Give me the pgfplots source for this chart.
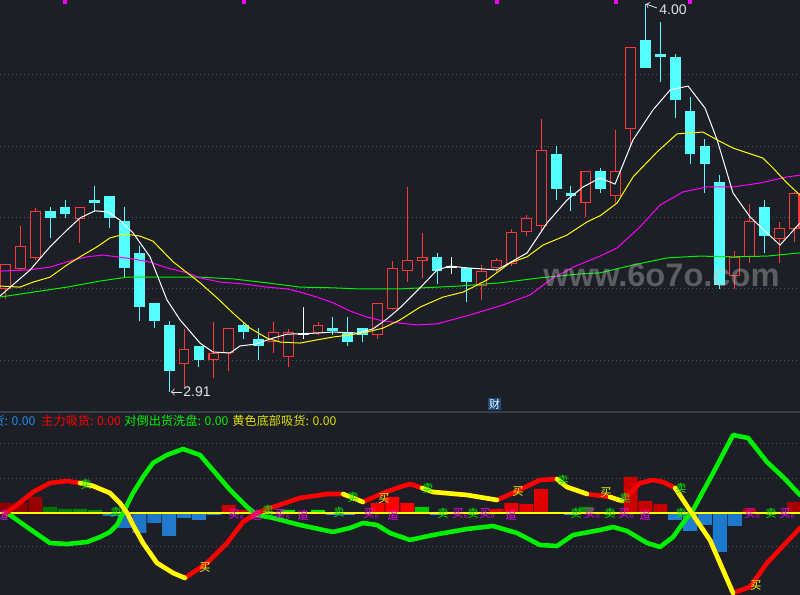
\documentclass[border=0pt]{standalone}
\usepackage{pgfplots}
\pgfplotsset{compat=1.18}
\usepackage{fontspec}
\setmainfont{Liberation Sans}
\newfontfamily\cjk{Noto Sans CJK SC}
\definecolor{bg}{HTML}{1C1F26}
\definecolor{gridc}{HTML}{4A4F5B}
\definecolor{sepc}{HTML}{3A3E48}
\definecolor{cred}{HTML}{FF3838}
\definecolor{ccyan}{HTML}{54FFFF}
\definecolor{lred}{HTML}{FF0000}
\definecolor{lyel}{HTML}{FFFF00}
\definecolor{lgrn}{HTML}{00F000}
\definecolor{lblue}{HTML}{1E8CF0}
\definecolor{lmag}{HTML}{FF00FF}
\definecolor{anno}{HTML}{DCE4F0}
\definecolor{badge}{HTML}{1B4A80}
% candles: index, low, body bottom, body top, high
\newcommand\cu[5]{%
 \addplot[cred, line width=0.5pt] coordinates {(#1,#2)(#1,#3)};
 \addplot[cred, line width=0.5pt] coordinates {(#1,#4)(#1,#5)};
 \addplot[cred, line width=5.4pt] coordinates {(#1,#3)(#1,#4)};
 \addplot[bg, line width=4.3pt, shorten <=0.55pt, shorten >=0.55pt] coordinates {(#1,#3)(#1,#4)};}
\newcommand\cd[5]{%
 \addplot[ccyan, line width=0.5pt] coordinates {(#1,#2)(#1,#5)};
 \addplot[ccyan, line width=5.4pt] coordinates {(#1,#3)(#1,#4)};}
\newcommand\lab[4]{\node[anchor=west, inner sep=0pt, text=#3, font=\cjk\fontsize{5.6pt}{6pt}\selectfont] at (#1,#2) {#4};}
\newcommand\bd{买\rlap{。}}
\begin{document}
\begin{tikzpicture}
\useasboundingbox (0,0) rectangle (400pt,297.5pt);
\clip (0,0) rectangle (400pt,297.5pt);
\fill[bg] (0,0) rectangle (400pt,297.5pt);
% ---------------- upper panel ----------------
\begin{axis}[at={(0pt,92.5pt)}, anchor=south west, scale only axis,
  width=400pt, height=205pt,
  xmin=-0.37, xmax=53.39, ymin=2.8603, ymax=4.0104,
  axis line style={draw=none}, xtick=\empty,
  ytick={3.0,3.2,3.4,3.6,3.8}, yticklabels={}, major tick length=0pt,
  ymajorgrids, grid style={gridc, line width=0.5pt, dash pattern=on 0.5pt off 1.5pt}]
\cu{0}{3.172}{3.200}{3.270}{3.270}
\cu{1}{3.250}{3.256}{3.320}{3.377}
\cu{2}{3.281}{3.287}{3.419}{3.427}
\cd{3}{3.343}{3.399}{3.419}{3.430}
\cd{4}{3.399}{3.410}{3.430}{3.449}
\cu{5}{3.329}{3.396}{3.430}{3.430}
\cd{6}{3.416}{3.441}{3.449}{3.489}
\cd{7}{3.371}{3.399}{3.461}{3.461}
\cd{8}{3.233}{3.259}{3.391}{3.430}
\cd{9}{3.110}{3.149}{3.301}{3.320}
\cd{10}{3.090}{3.110}{3.161}{3.161}
\cd{11}{2.910}{2.970}{3.099}{3.110}
\cu{12}{2.925}{2.989}{3.031}{3.088}
\cd{13}{2.981}{3.001}{3.040}{3.040}
\cu{14}{2.950}{3.001}{3.020}{3.107}
\cu{15}{2.970}{3.020}{3.090}{3.090}
\cd{16}{3.059}{3.079}{3.099}{3.107}
\cd{17}{3.001}{3.040}{3.059}{3.090}
\cu{18}{3.020}{3.051}{3.079}{3.107}
\cu{19}{2.981}{3.009}{3.079}{3.088}
\addplot[white, line width=0.5pt] coordinates {(20,3.059)(20,3.149)};
\addplot[white, line width=0.8pt] coordinates {(19.63,3.073)(20.37,3.073)};
\cu{21}{3.071}{3.076}{3.099}{3.107}
\cd{22}{3.071}{3.082}{3.090}{3.121}
\cd{23}{3.040}{3.051}{3.079}{3.121}
\cd{24}{3.051}{3.071}{3.090}{3.090}
\cu{25}{3.059}{3.071}{3.161}{3.161}
\cu{26}{3.141}{3.144}{3.259}{3.278}
\cu{27}{3.219}{3.250}{3.281}{3.486}
\cu{28}{3.231}{3.278}{3.290}{3.357}
\cd{29}{3.214}{3.250}{3.290}{3.301}
\addplot[white, line width=0.5pt] coordinates {(30,3.242)(30,3.290)};
\addplot[white, line width=0.8pt] coordinates {(29.63,3.261)(30.37,3.261)};
\cd{31}{3.163}{3.219}{3.259}{3.259}
\cu{32}{3.169}{3.208}{3.250}{3.267}
\cu{33}{3.247}{3.259}{3.281}{3.287}
\cu{34}{3.264}{3.270}{3.360}{3.368}
\cu{35}{3.348}{3.360}{3.399}{3.407}
\cu{36}{3.360}{3.377}{3.590}{3.677}
\cd{37}{3.449}{3.480}{3.578}{3.601}
\cd{38}{3.419}{3.461}{3.469}{3.489}
\cu{39}{3.402}{3.441}{3.531}{3.531}
\cd{40}{3.469}{3.480}{3.531}{3.539}
\cu{41}{3.441}{3.461}{3.531}{3.646}
\cu{42}{3.601}{3.649}{3.879}{3.879}
\cd{43}{3.820}{3.820}{3.898}{4.000}
\cd{44}{3.780}{3.851}{3.859}{3.949}
\cd{45}{3.679}{3.730}{3.851}{3.859}
\cd{46}{3.550}{3.578}{3.699}{3.738}
\cd{47}{3.469}{3.550}{3.601}{3.621}
\cd{48}{3.200}{3.211}{3.500}{3.519}
\cu{49}{3.200}{3.236}{3.290}{3.306}
\cu{50}{3.273}{3.290}{3.391}{3.438}
\cd{51}{3.301}{3.348}{3.430}{3.449}
\cu{52}{3.273}{3.340}{3.371}{3.388}
\cu{53}{3.332}{3.368}{3.469}{3.472}
% moving averages
\addplot[lgrn, line width=0.5pt] coordinates {(-0.37,3.177)(1.85,3.191)(4.13,3.205)(6.35,3.222)(8.17,3.233)(13.07,3.233)(15.29,3.228)(17.57,3.217)(19.79,3.205)(22.01,3.203)(23.62,3.200)(26.51,3.200)(30.54,3.208)(33.23,3.217)(35.92,3.231)(38.61,3.242)(39.95,3.245)(42.17,3.267)(44.46,3.287)(46.67,3.292)(48.89,3.290)(51.17,3.292)(53.39,3.301)};
\addplot[lmag, line width=0.5pt] coordinates {(-0.37,3.250)(1.44,3.253)(2.99,3.261)(4.54,3.281)(5.48,3.290)(6.55,3.295)(7.49,3.290)(8.57,3.284)(9.71,3.275)(10.85,3.259)(12.20,3.245)(13.07,3.231)(14.42,3.219)(15.96,3.214)(17.57,3.205)(18.92,3.200)(19.79,3.191)(20.93,3.177)(22.01,3.161)(23.15,3.138)(24.29,3.121)(25.37,3.110)(26.51,3.104)(27.65,3.099)(29.00,3.102)(31.22,3.127)(33.43,3.155)(35.25,3.183)(36.59,3.225)(38.14,3.261)(39.95,3.292)(41.10,3.315)(42.64,3.374)(43.98,3.435)(45.53,3.472)(47.14,3.486)(48.89,3.486)(50.70,3.497)(52.52,3.514)(53.39,3.519)};
\addplot[lyel, line width=0.5pt] coordinates {(-0.37,3.208)(0.97,3.205)(1.85,3.219)(2.99,3.233)(4.13,3.267)(5.01,3.290)(6.15,3.318)(7.02,3.343)(8.03,3.354)(9.04,3.348)(9.91,3.334)(11.26,3.276)(12.40,3.239)(13.07,3.217)(14.21,3.175)(15.29,3.132)(16.43,3.090)(17.57,3.062)(18.45,3.051)(19.79,3.048)(20.93,3.057)(22.01,3.065)(23.15,3.071)(24.29,3.079)(25.37,3.090)(26.51,3.113)(27.86,3.149)(29.40,3.177)(30.75,3.191)(32.36,3.225)(33.90,3.273)(35.05,3.290)(36.12,3.323)(37.73,3.351)(39.08,3.388)(39.95,3.405)(41.10,3.441)(42.17,3.514)(43.78,3.584)(45.13,3.635)(46.87,3.640)(47.82,3.618)(48.89,3.595)(50.90,3.567)(51.58,3.539)(52.52,3.497)(53.39,3.463)};
\addplot[white, line width=0.5pt] coordinates {(-0.37,3.180)(1.65,3.253)(2.99,3.318)(4.13,3.365)(5.01,3.399)(6.01,3.419)(6.89,3.416)(7.69,3.393)(8.57,3.357)(9.71,3.290)(10.85,3.169)(11.73,3.113)(13.07,3.048)(13.94,3.023)(15.09,3.020)(15.76,3.040)(16.77,3.045)(17.98,3.062)(18.92,3.073)(20.93,3.076)(22.01,3.079)(23.62,3.076)(24.70,3.088)(25.64,3.116)(26.51,3.147)(27.86,3.203)(29.00,3.253)(29.87,3.264)(31.01,3.259)(33.03,3.253)(35.05,3.301)(36.39,3.385)(37.73,3.449)(38.81,3.486)(39.95,3.511)(40.96,3.494)(42.17,3.618)(43.51,3.702)(44.66,3.758)(45.87,3.769)(47.01,3.707)(47.82,3.618)(48.89,3.469)(50.03,3.402)(51.17,3.357)(52.05,3.323)(53.39,3.385)};
\addplot[only marks, mark=square*, mark size=0.8pt, lmag] coordinates {(4,4.005)(16,4.005)(33,4.005)(41,4.005)(46,4.005)};
\end{axis}
% ---------------- lower panel ----------------
\begin{axis}[at={(0pt,0pt)}, anchor=south west, scale only axis,
  width=400pt, height=91.5pt,
  xmin=-0.37, xmax=53.39, ymin=-82, ymax=101,
  axis line style={draw=none}, xtick=\empty,
  ytick={-34,34,69}, yticklabels={}, major tick length=0pt,
  ymajorgrids, grid style={gridc, line width=0.5pt, dash pattern=on 0.5pt off 1.5pt}]
\addplot[ybar, bar width=0.94, bar shift=0pt, draw=none, left color=red!55!black, right color=red!65!black, middle color=lred] coordinates {(0,10)(1,10)(2,16)(15,8)(16,3)(25,10)(26,16)(27,10)(33,4)(34,10)(35,9)(36,24)(42,36)(43,12)(44,9)(50,4)(53,11)};
\addplot[ybar, bar width=0.94, bar shift=0pt, draw=none, left color=green!45!black, right color=green!55!black, middle color=lgrn] coordinates {(3,6)(4,4)(5,4)(6,3)(19,3)(21,3)(28,6)(37,1)(39,6)};
\addplot[ybar, bar width=0.94, bar shift=0pt, draw=none, left color=lblue!80!black, right color=lblue!85!black, middle color=lblue!85!white] coordinates {(7,-3)(8,-15)(9,-20)(10,-10)(11,-23)(12,-5)(13,-7)(14,-2)(22,-2)(23,-2)(29,-2)(38,-2)(45,-7)(46,-18)(47,-12)(48,-39)(49,-13)};
\addplot[lyel, line width=0.6pt] coordinates {(-0.37,0)(53.39,0)};
\addplot[lgrn, line width=2.3pt, line join=round, line cap=round] coordinates {(0.03,0)(0.30,-2)(1.44,-14)(2.99,-30)(4.13,-31)(5.48,-29)(6.35,-24)(7.02,-19)(7.49,-12)(7.90,0)(8.57,20)(9.24,36)(9.91,50)(10.85,58)(11.93,64)(13.07,58)(13.94,43)(15.09,23)(16.23,6)(16.90,-2)(17.98,-5)(19.79,-12)(22.01,-19)(23.15,-15)(24.02,-10)(24.97,-12)(25.84,-20)(27.18,-27)(28.73,-22)(31.01,-16)(32.76,-13)(34.37,-20)(35.92,-32)(37.06,-33)(38.14,-22)(39.95,-17)(40.83,-14)(41.77,-18)(43.11,-30)(43.98,-34)(44.86,-24)(45.53,-10)(46.20,3)(47.55,40)(48.89,78)(49.90,75)(51.17,51)(52.25,36)(53.39,18)};
\addplot[lred, line width=2.3pt, line join=round, line cap=round] coordinates {(0.03,0)(0.77,8)(1.85,21)(2.99,30)(4.13,32)(5.01,30)(5.88,27)(7.02,20)(7.69,10)(8.17,0)(8.57,-12)(9.24,-30)(10.18,-50)(11.26,-60)(12.06,-65)(13.54,-50)(14.89,-30)(15.96,-9)(16.90,0)(17.98,6)(19.79,15)(21.61,19)(22.68,19)(24.02,11)(25.37,20)(26.51,26)(27.18,29)(27.99,25)(28.73,21)(31.01,18)(33.03,13)(34.10,20)(35.92,33)(37.06,34)(37.73,26)(39.08,19)(40.62,16)(41.43,12)(42.64,30)(43.51,33)(44.19,31)(45.00,25)(46.20,-2)(47.34,-27)(48.89,-80)(50.03,-74)(51.17,-50)(53.39,-15)};
\addplot[lyel, line width=2.3pt, line join=round, line cap=round] coordinates {(5.01,30)(5.88,27)(7.02,20)(7.69,10)(8.17,0)(8.57,-12)(9.24,-30)(10.18,-50)(11.26,-60)(12.06,-65)};
\addplot[lyel, line width=2.3pt, line join=round, line cap=round] coordinates {(22.68,19)(24.02,11)};
\addplot[lyel, line width=2.3pt, line join=round, line cap=round] coordinates {(27.99,25)(28.73,21)(31.01,18)(33.03,13)};
\addplot[lyel, line width=2.3pt, line join=round, line cap=round] coordinates {(37.06,34)(37.73,26)(39.08,19)};
\addplot[lyel, line width=2.3pt, line join=round, line cap=round] coordinates {(40.62,16)(41.43,12)};
\addplot[lyel, line width=2.3pt, line join=round, line cap=round] coordinates {(45.00,25)(46.20,-2)(47.34,-27)(48.89,-80)};
\end{axis}
% ---------------- texts in pixel units ----------------
\begin{scope}[shift={(0pt,297.5pt)}, x=0.5pt, y=-0.5pt]
\draw[sepc, line width=0.6pt] (0,412) -- (800,412);
\node[anchor=base west, inner sep=0pt, text=white!55!gray, text opacity=0.38, font=\bfseries\fontsize{16.3pt}{18pt}\selectfont] at (543,287) {www.6o7o.com};
\draw[anno, line width=0.4pt, ->] (657,8) -- (646,4);
\node[anchor=west, inner sep=0pt, text=anno, font=\fontsize{7pt}{8pt}\selectfont] at (659,10) {4.00};
\draw[anno, line width=0.4pt, ->] (182,392) -- (171,392);
\node[anchor=west, inner sep=0pt, text=anno, font=\fontsize{7pt}{8pt}\selectfont] at (183,392) {2.91};
\node[fill=badge, text=white, inner sep=0.4pt, font=\cjk\fontsize{5.5pt}{6pt}\selectfont] at (494.5,404) {财};
\node[anchor=west, inner sep=0pt, text=lblue, font=\cjk\fontsize{6.1pt}{7pt}\selectfont] at (-8,421) {货: 0.00};
\node[anchor=west, inner sep=0pt, text=lred, font=\cjk\fontsize{6.1pt}{7pt}\selectfont] at (41,421) {主力吸货: 0.00};
\node[anchor=west, inner sep=0pt, text=lgrn, font=\cjk\fontsize{6.1pt}{7pt}\selectfont] at (124,421) {对倒出货洗盘: 0.00};
\node[anchor=west, inner sep=0pt, text=lyel!88!black, font=\cjk\fontsize{6.1pt}{7pt}\selectfont] at (232,421) {黄色底部吸货: 0.00};
\lab{-3}{515}{lmag}{追}
\lab{80}{484}{lgrn}{卖}
\lab{110}{512}{lgrn}{卖}
\lab{199}{568}{lyel}{买}
\lab{228}{515}{lmag}{\bd}
\lab{250}{515}{lmag}{追}
\lab{262}{510}{lgrn}{卖}
\lab{274}{515}{lmag}{\bd}
\lab{297}{515}{lmag}{追}
\lab{333}{512}{lgrn}{卖}
\lab{347}{497}{lgrn}{卖}
\lab{363}{514}{lmag}{\bd}
\lab{378}{499}{lyel}{买}
\lab{387}{515}{lmag}{追}
\lab{422}{488}{lgrn}{卖}
\lab{437}{513}{lgrn}{卖}
\lab{452}{514}{lmag}{\bd}
\lab{467}{513}{lgrn}{卖}
\lab{479}{514}{lmag}{\bd}
\lab{505}{515}{lmag}{追}
\lab{512}{492}{lyel}{买}
\lab{557}{480}{lgrn}{卖}
\lab{570}{513}{lgrn}{卖}
\lab{584}{514}{lmag}{\bd}
\lab{600}{493}{lyel}{买}
\lab{604}{513}{lgrn}{卖}
\lab{618}{514}{lmag}{\bd}
\lab{619}{498}{lgrn}{卖}
\lab{639}{515}{lmag}{追}
\lab{675}{488}{lgrn}{卖}
\lab{675}{513}{lgrn}{卖}
\lab{744}{514}{lmag}{\bd}
\lab{750}{586}{lyel}{买}
\lab{765}{513}{lgrn}{卖}
\lab{779}{514}{lmag}{\bd}
\end{scope}
\end{tikzpicture}
\end{document}
